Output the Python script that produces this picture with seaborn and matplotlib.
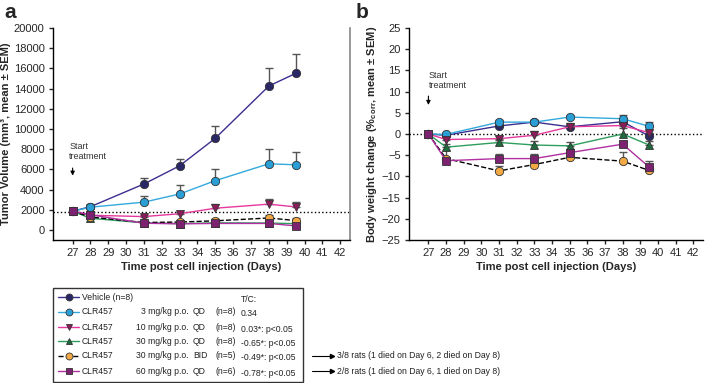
import matplotlib
matplotlib.use("Agg")
import matplotlib.pyplot as plt
from matplotlib.lines import Line2D
from matplotlib.patches import Rectangle
import numpy as np
import seaborn as sns

# ---- data ----
days = [27, 28, 31, 33, 35, 38, 39.5]

# panel a: tumor volume (mm3)
tv_vehicle = [1850, 2300, 4550, 6350, 9080, 14250, 15500]
tv_vehicle_sem = [0, 300, 550, 720, 1200, 1780, 1900]
tv_3qd = [1850, 2250, 2750, 3560, 4880, 6550, 6450]
tv_3qd_sem = [0, 250, 650, 850, 1150, 1450, 1300]
tv_10qd = [1850, 1450, 1320, 1600, 2150, 2550, 2280]
tv_10qd_sem = [0, 150, 200, 220, 400, 500, 500]
tv_30qd = [1850, 1150, 700, 620, 700, 680, 620]
tv_30qd_sem = [0, 100, 100, 100, 120, 150, 150]
tv_30bid = [1850, 1280, 730, 780, 900, 1180, 930]
tv_30bid_sem = [0, 120, 120, 130, 150, 260, 220]
tv_60qd = [1850, 1500, 660, 600, 640, 640, 400]
tv_60qd_sem = [0, 150, 100, 100, 110, 120, 150]

# panel b: body weight change (%)
bw_vehicle = [0, -0.3, 1.9, 2.8, 1.7, 2.9, -0.5]
bw_vehicle_sem = [0, 0.4, 0.5, 0.6, 0.6, 0.8, 0.8]
bw_3qd = [0, -0.1, 2.8, 2.8, 4.0, 3.6, 1.8]
bw_3qd_sem = [0, 0.4, 0.5, 0.6, 0.5, 0.9, 1.0]
bw_10qd = [0, -1.3, -1.1, -0.3, 1.7, 2.0, 0.3]
bw_10qd_sem = [0, 0.5, 0.6, 0.9, 0.9, 0.7, 0.6]
bw_30qd = [0, -3.1, -2.0, -2.6, -2.8, 0.0, -2.6]
bw_30qd_sem = [0, 0.8, 0.7, 1.0, 1.0, 1.3, 1.0]
bw_30bid = [0, -5.8, -8.7, -7.2, -5.5, -6.4, -8.6]
bw_30bid_sem = [0, 2.0, 1.2, 0.9, 0.6, 2.1, 0.6]
bw_60qd = [0, -6.3, -5.8, -5.8, -4.4, -2.4, -7.8]
bw_60qd_sem = [0, 0.5, 1.2, 1.2, 0.8, 0.8, 1.4]

tv_start = 1800
xticks = list(range(27, 43))

# legend table
leg_drug = ["Vehicle (n=8)", "CLR457", "CLR457", "CLR457", "CLR457", "CLR457"]
leg_dose = ["", "3 mg/kg p.o.", "10 mg/kg p.o.", "30 mg/kg p.o.", "30 mg/kg p.o.", "60 mg/kg p.o."]
leg_sched = ["", "QD", "QD", "QD", "BID", "QD"]
leg_n = ["", "(n=8)", "(n=8)", "(n=8)", "(n=5)", "(n=6)"]
leg_tc = ["", "0.34", "0.03*: p<0.05", "-0.65*: p<0.05", "-0.49*: p<0.05", "-0.78*: p<0.05"]
deaths = {4: "3/8 rats (1 died on Day 6, 2 died on Day 8)",
          5: "2/8 rats (1 died on Day 6, 1 died on Day 8)"}

# styles per group
line_cols = ["#3b2f8f", "#33a9dc", "#e5389c", "#2e9e5e", "black", "#b1309f"]
face_cols = ["#2a2766", "#2a9fd6", "#8a1c5a", "#1e6b3e", "#f2a945", "#7d2270"]
markers = ["o", "o", "v", "^", "o", "s"]
dashes = ["-", "-", "-", "-", "--", "-"]

tv_groups = [(tv_vehicle, tv_vehicle_sem), (tv_3qd, tv_3qd_sem), (tv_10qd, tv_10qd_sem),
             (tv_30qd, tv_30qd_sem), (tv_30bid, tv_30bid_sem), (tv_60qd, tv_60qd_sem)]
bw_groups = [(bw_vehicle, bw_vehicle_sem), (bw_3qd, bw_3qd_sem), (bw_10qd, bw_10qd_sem),
             (bw_30qd, bw_30qd_sem), (bw_30bid, bw_30bid_sem), (bw_60qd, bw_60qd_sem)]

sns.set_style("ticks")
plt.rcParams['font.family'] = ['Liberation Sans', 'DejaVu Sans']
plt.rcParams['mathtext.fontset'] = 'custom'
plt.rcParams['mathtext.rm'] = 'Liberation Sans'

W, H = 708, 383
fig = plt.figure(figsize=(W / 100, H / 100), dpi=100)


def fx(px):
    return px / W


def fy(py):
    return 1 - py / H


ax_a = fig.add_axes([fx(53), fy(240), fx(350) - fx(53), fy(28) - fy(240)])
ax_b = fig.add_axes([fx(409), fy(240), fx(703) - fx(409), fy(28) - fy(240)])


def draw_panel(ax, groups, base):
    ax.axhline(base, color="black", ls=":", lw=1.0, zorder=1)
    for i, (vals, sem) in enumerate(groups):
        ax.errorbar(days, vals, yerr=[np.zeros(len(sem)), sem], fmt="none",
                    ecolor="#555555", elinewidth=1.0, capsize=3, capthick=1.0, zorder=2)
        sns.lineplot(x=days, y=vals, ax=ax, color=line_cols[i], linestyle=dashes[i],
                     lw=1.0, marker=markers[i], markersize=6, markerfacecolor=face_cols[i],
                     markeredgecolor="#333333", markeredgewidth=0.6, zorder=3 + i * 0.1)
    ax.set_xlim(25.9, 42.55)
    ax.set_xticks(xticks)
    ax.tick_params(axis="both", labelsize=8, length=3, width=1, direction="out", pad=3)
    ax.set_xlabel("Time post cell injection (Days)", fontsize=8, fontweight="bold", labelpad=3)
    ax.spines["top"].set_visible(False)
    ax.spines["right"].set_visible(False)
    for s in ["left", "bottom"]:
        ax.spines[s].set_linewidth(1.0)
        ax.spines[s].set_color("black")


draw_panel(ax_a, tv_groups, tv_start)
ax_a.set_ylim(-1000, 20000)
ax_a.set_yticks(range(0, 20001, 2000))
ax_a.set_ylabel("Tumor Volume (mm³, mean ± SEM)", fontsize=8, fontweight="bold", labelpad=2)
ax_a.spines["right"].set_visible(True)
ax_a.spines["right"].set_color("#888888")
ax_a.spines["right"].set_linewidth(1.2)
ax_a.text(26.8, 6800, "Start\ntreatment", fontsize=6.5, va="bottom", ha="left", linespacing=1.25,
          color="#333333")
ax_a.annotate("", xy=(27, 5100), xytext=(27, 6400),
              arrowprops=dict(arrowstyle="-|>", color="black", lw=0.8, mutation_scale=6))

draw_panel(ax_b, bw_groups, 0)
ax_b.set_ylim(-25, 25)
ax_b.set_yticks(range(-25, 26, 5))
ax_b.set_ylabel(r"Body weight change (%$_{\mathregular{corr}}$, mean ± SEM)", fontsize=8,
                fontweight="bold", labelpad=2)
ax_b.text(27, 10.3, "Start\ntreatment", fontsize=6.5, va="bottom", ha="left", linespacing=1.25,
          color="#333333")
ax_b.annotate("", xy=(27, 6.2), xytext=(27, 9.6),
              arrowprops=dict(arrowstyle="-|>", color="black", lw=0.8, mutation_scale=6))

fig.text(fx(4), fy(12), "a", fontsize=15, fontweight="bold", va="center", ha="left")
fig.text(fx(356), fy(12), "b", fontsize=15, fontweight="bold", va="center", ha="left")

# ---- legend box ----
fig.add_artist(Rectangle((fx(53), fy(382)), fx(303) - fx(53), fy(288) - fy(382),
                         transform=fig.transFigure, fill=False, edgecolor="#333333", lw=1.0))
rows_y = [297, 312, 327, 341, 356, 371]
for i, ry in enumerate(rows_y):
    yy = fy(ry)
    fig.add_artist(Line2D([fx(58), fx(79)], [yy, yy], transform=fig.transFigure,
                          color=line_cols[i], ls=dashes[i], lw=1.0))
    fig.add_artist(Line2D([fx(68.5)], [yy], transform=fig.transFigure, marker=markers[i],
                          markersize=5, markerfacecolor=face_cols[i],
                          markeredgecolor="#333333", markeredgewidth=0.6, ls="none"))
    fig.text(fx(82), yy, leg_drug[i], fontsize=6.2, va="center", ha="left", color="#222222")
    fig.text(fx(189), yy, leg_dose[i], fontsize=6.2, va="center", ha="right", color="#222222")
    fig.text(fx(193), yy, leg_sched[i], fontsize=6.2, va="center", ha="left", color="#222222")
    fig.text(fx(215), yy, leg_n[i], fontsize=6.2, va="center", ha="left", color="#222222")
    fig.text(fx(241), fy(ry + 2 if i else ry + 3), leg_tc[i] if i else "T/C:", fontsize=6.2,
             va="center", ha="left", color="#222222")
    if i in deaths:
        fig.add_artist(Line2D([fx(312), fx(333)], [yy, yy], transform=fig.transFigure,
                              color="black", lw=0.8))
        fig.add_artist(Line2D([fx(332)], [yy], transform=fig.transFigure, marker=">",
                              markersize=3, color="black", ls="none"))
        fig.text(fx(337), yy, deaths[i], fontsize=6.2, va="center", ha="left", color="#222222")

fig.savefig("out.png", dpi=100)
